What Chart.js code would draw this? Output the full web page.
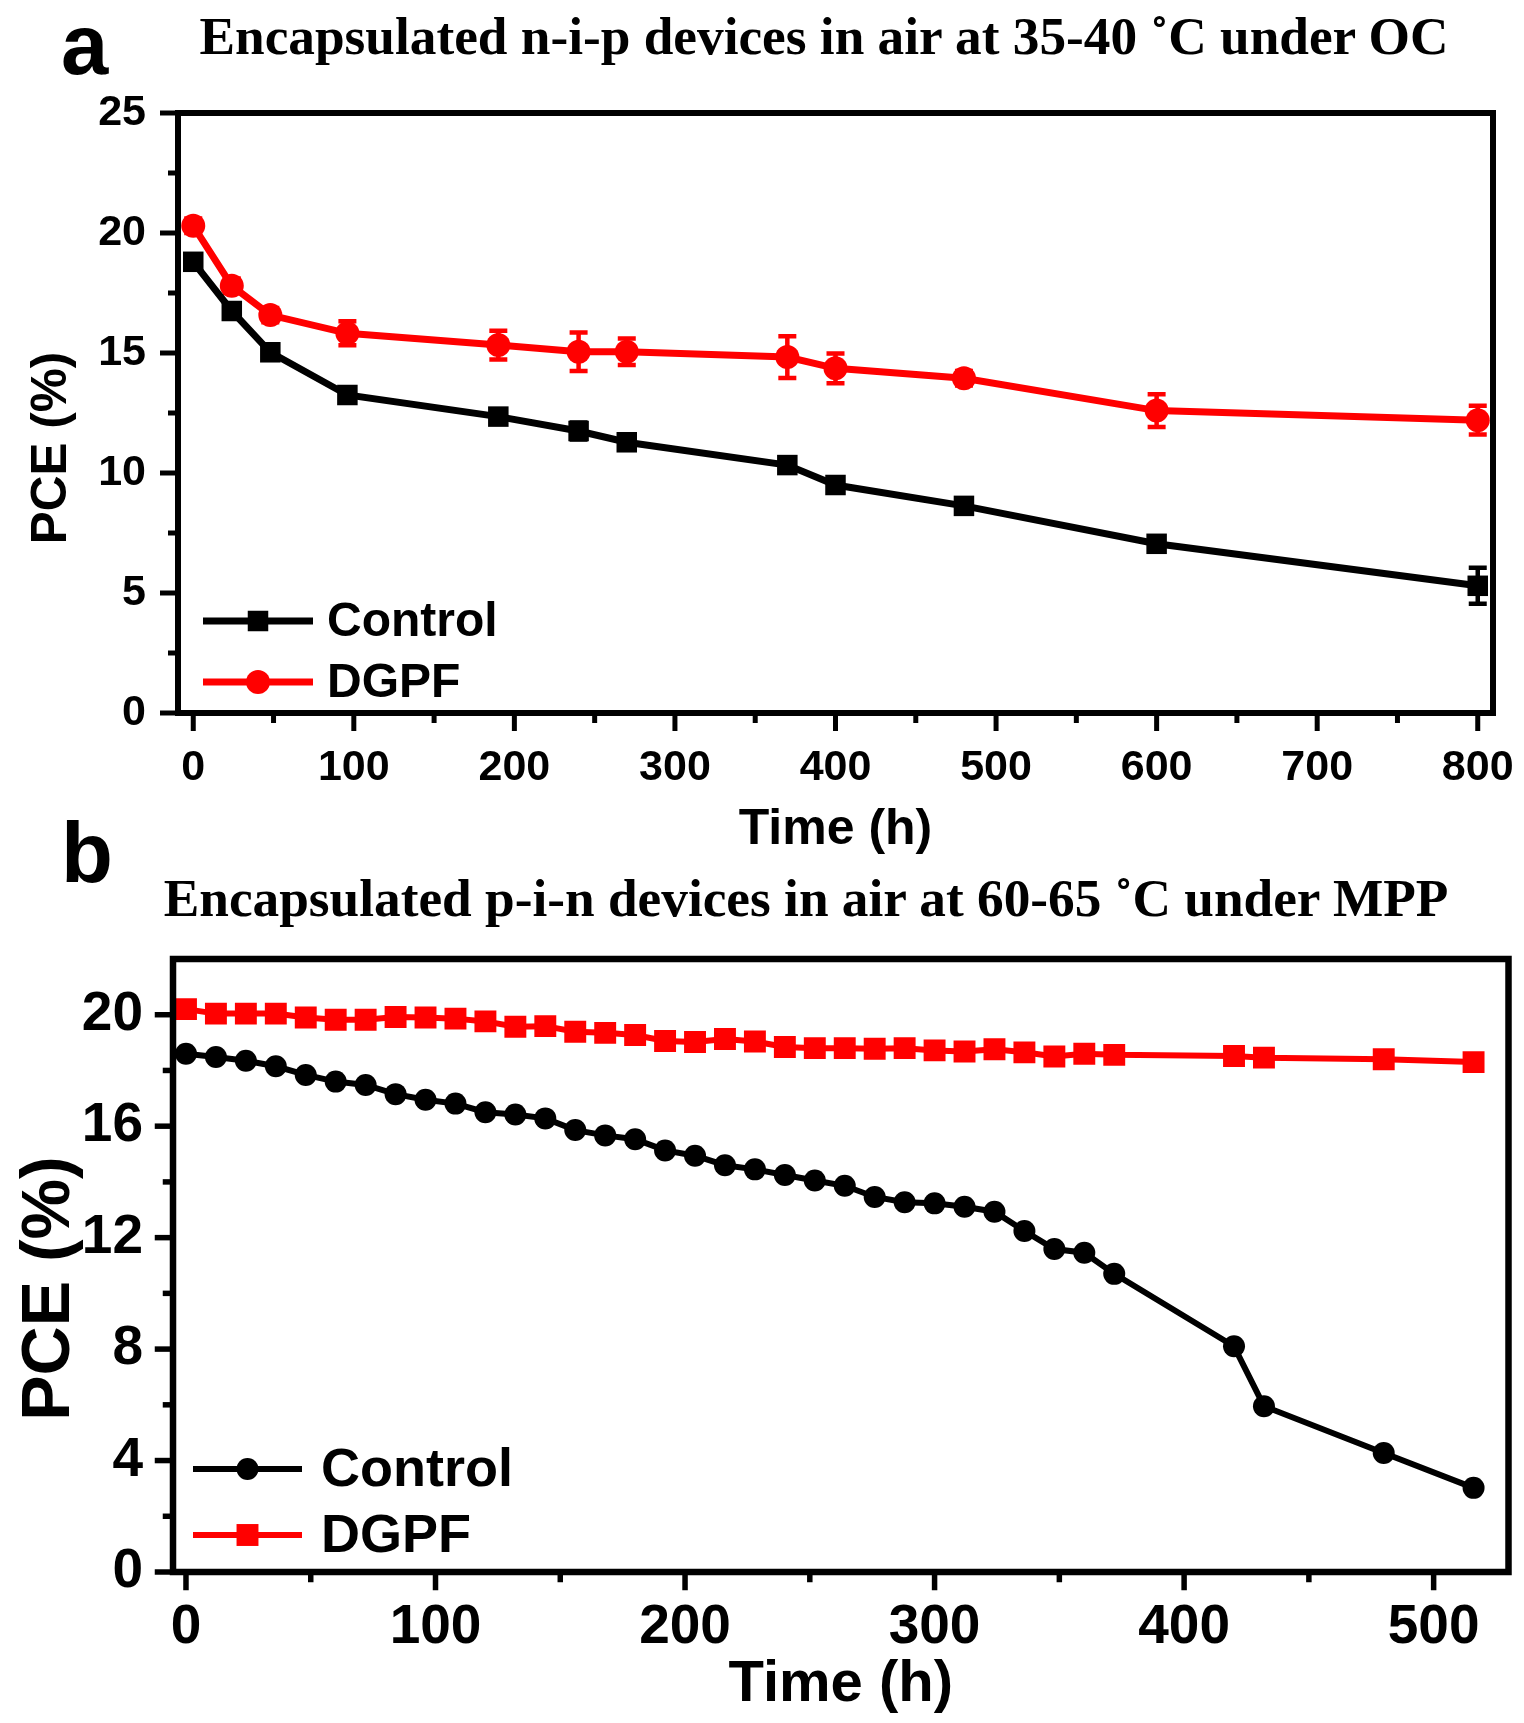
<!DOCTYPE html>
<html>
<head>
<meta charset="utf-8">
<script src="https://cdn.jsdelivr.net/npm/chart.js@4.4.1/dist/chart.umd.min.js"></script>
<style>
  body { margin: 0; background: #fff; width: 1524px; height: 1723px; position: relative; overflow: hidden; }
  canvas { position: absolute; left: 0; }
  #chartA { top: 0; }
  #chartB { top: 860px; }
  .panel { position: absolute; font: bold 85px "Liberation Sans", Arial, sans-serif; line-height: 85px; color: #000; }
  .head { position: absolute; font: bold 53.3px "Liberation Serif", "Times New Roman", serif; line-height: 53.3px; white-space: nowrap; transform: translateX(-50%); color: #000; }
</style>
</head>
<body>
<canvas id="chartA" width="1524" height="860"></canvas>
<canvas id="chartB" width="1524" height="863"></canvas>
<div class="panel" style="left:61px;top:2px">a</div>
<div class="head" style="left:824px;top:10px">Encapsulated n-i-p devices in air at 35-40 ˚C under OC</div>
<div class="panel" style="left:61px;top:810px">b</div>
<div class="head" style="left:806px;top:872px">Encapsulated p-i-n devices in air at 60-65 ˚C under MPP</div>

<script>
// ---- panel a data (n-i-p, 35-40 C, OC) ----
const hoursA = [0, 24, 48, 96, 190, 240, 270, 370, 400, 480, 600, 800];
const controlA = [18.8, 16.75, 15.03, 13.25, 12.35, 11.75, 11.28, 10.33, 9.5, 8.63, 7.05, 5.3];
const controlErrA = [0.2, 0.2, 0.2, 0.2, 0.25, 0.35, 0.2, 0.2, 0.25, 0.25, 0.2, 0.75];
const dgpfA = [20.3, 17.8, 16.58, 15.82, 15.33, 15.05, 15.05, 14.83, 14.36, 13.95, 12.6, 12.2];
const dgpfErrA = [0.3, 0.3, 0.3, 0.5, 0.6, 0.8, 0.55, 0.87, 0.62, 0.3, 0.68, 0.6];
const xTicksA = [0, 100, 200, 300, 400, 500, 600, 700, 800];
const xMinorA = [50, 150, 250, 350, 450, 550, 650, 750];
const yTicksA = [0, 5, 10, 15, 20, 25];
const yMinorA = [2.5, 7.5, 12.5, 17.5, 22.5];

// ---- panel b data (p-i-n, 60-65 C, MPP) ----
const hoursB = [0, 12, 24, 36, 48, 60, 72, 84, 96, 108, 120, 132, 144, 156, 168, 180, 192, 204,
  216, 228, 240, 252, 264, 276, 288, 300, 312, 324, 336, 348, 360, 372, 420, 432, 480, 516];
const controlB = [18.6, 18.48, 18.35, 18.15, 17.84, 17.6, 17.48, 17.15, 16.95, 16.81, 16.5, 16.42,
  16.28, 15.86, 15.67, 15.53, 15.13, 14.94, 14.6, 14.45, 14.25, 14.05, 13.86, 13.46, 13.27, 13.23,
  13.11, 12.93, 12.24, 11.59, 11.46, 10.7, 8.1, 5.95, 4.27, 3.02];
const dgpfB = [20.2, 20.04, 20.04, 20.04, 19.9, 19.82, 19.82, 19.92, 19.9, 19.86, 19.76, 19.57,
  19.59, 19.39, 19.35, 19.27, 19.06, 19.02, 19.13, 19.04, 18.84, 18.8, 18.8, 18.78, 18.8, 18.72,
  18.68, 18.76, 18.65, 18.5, 18.6, 18.56, 18.52, 18.46, 18.4, 18.3];
const xTicksB = [0, 100, 200, 300, 400, 500];
const xMinorB = [50, 150, 250, 350, 450];
const yTicksB = [0, 4, 8, 12, 16, 20];
const yMinorB = [2, 6, 10, 14, 18];

const SANS = '"Liberation Sans", Arial, sans-serif';
const toXY = (xs, ys) => xs.map((x, i) => ({ x, y: ys[i] }));

function drawMarker(ctx, style, r, x, y, color) {
  ctx.fillStyle = color;
  ctx.beginPath();
  if (style === 'rect') {
    const s = r * Math.SQRT1_2;
    ctx.rect(x - s, y - s, 2 * s, 2 * s);
  } else {
    ctx.arc(x, y, r, 0, Math.PI * 2);
  }
  ctx.fill();
}

// frame, tick marks, error bars, y title and legend
const figPlugin = {
  id: 'fig',
  beforeDatasetsDraw(chart, args, o) {
    const ctx = chart.ctx, xs = chart.scales.x, ys = chart.scales.y;
    ctx.save();
    chart.data.datasets.forEach(ds => {
      if (!ds.err) return;
      ctx.strokeStyle = ds.borderColor;
      ctx.lineWidth = 4.5;
      ds.data.forEach((p, i) => {
        const e = ds.err[i];
        const px = xs.getPixelForValue(p.x);
        const t = ys.getPixelForValue(p.y + e), b = ys.getPixelForValue(p.y - e);
        ctx.beginPath();
        ctx.moveTo(px, t); ctx.lineTo(px, b);
        ctx.moveTo(px - 9, t); ctx.lineTo(px + 9, t);
        ctx.moveTo(px - 9, b); ctx.lineTo(px + 9, b);
        ctx.stroke();
      });
    });
    ctx.restore();
  },
  afterDraw(chart, args, o) {
    const ctx = chart.ctx, a = chart.chartArea, xs = chart.scales.x, ys = chart.scales.y;
    const half = o.frameWidth / 2;
    ctx.save();
    ctx.strokeStyle = '#000';
    ctx.lineWidth = o.tickWidth;
    ctx.lineCap = 'butt';
    const tick = (vals, len, isX) => vals.forEach(v => {
      ctx.beginPath();
      if (isX) {
        const px = xs.getPixelForValue(v);
        ctx.moveTo(px, a.bottom); ctx.lineTo(px, a.bottom + half + len);
      } else {
        const py = ys.getPixelForValue(v);
        ctx.moveTo(a.left, py); ctx.lineTo(a.left - half - len, py);
      }
      ctx.stroke();
    });
    tick(o.xMajor, o.majorLen, true);
    tick(o.xMinor, o.minorLen, true);
    tick(o.yMajor, o.majorLen, false);
    tick(o.yMinor, o.minorLen, false);
    // box around plot
    ctx.lineWidth = o.frameWidth;
    ctx.lineJoin = 'miter';
    ctx.strokeRect(a.left, a.top, a.right - a.left, a.bottom - a.top);

    // y axis title
    ctx.fillStyle = '#000';
    ctx.font = 'bold ' + o.yTitle.size + 'px ' + SANS;
    ctx.textAlign = 'center';
    ctx.textBaseline = 'middle';
    ctx.save();
    ctx.translate(o.yTitle.x, (a.top + a.bottom) / 2 + o.yTitle.shift);
    ctx.rotate(-Math.PI / 2);
    ctx.fillText('PCE (%)', 0, 0);
    ctx.restore();

    // legend: line + marker + label
    const lg = o.legend;
    ctx.font = 'bold ' + lg.size + 'px ' + SANS;
    ctx.textBaseline = 'middle';
    ctx.textAlign = 'left';
    chart.data.datasets.forEach((ds, i) => {
      const y = a.bottom - lg.rows[i];
      const x0 = a.left + lg.x0, x1 = a.left + lg.x1;
      ctx.strokeStyle = ds.borderColor;
      ctx.lineWidth = ds.borderWidth;
      ctx.beginPath(); ctx.moveTo(x0, y); ctx.lineTo(x1, y); ctx.stroke();
      drawMarker(ctx, ds.pointStyle, ds.pointRadius, (x0 + x1) / 2, y, ds.borderColor);
      ctx.fillStyle = '#000';
      ctx.fillText(ds.label, a.left + lg.textX, y + 2);
    });
    ctx.restore();
  }
};

function makeChart(id, cfg) {
  return new Chart(document.getElementById(id), {
    type: 'scatter',
    data: { datasets: cfg.datasets },
    options: {
      responsive: false,
      animation: false,
      layout: { padding: cfg.padding },
      plugins: {
        legend: { display: false },
        tooltip: { enabled: false },
        fig: cfg.fig
      },
      scales: {
        x: {
          type: 'linear', min: cfg.xMin, max: cfg.xMax,
          afterBuildTicks: s => { s.ticks = cfg.xTicks.map(v => ({ value: v })); },
          afterFit: s => { s.height = cfg.xHeight; s.paddingLeft = 0; s.paddingRight = 0; },
          grid: { display: false, drawTicks: true, tickLength: cfg.xPad },
          border: { display: false },
          ticks: { color: '#000', padding: 0, maxRotation: 0, autoSkip: false,
                   font: { family: SANS, size: cfg.tickSize, weight: 'bold' } },
          title: { display: true, text: 'Time (h)', color: '#000',
                   font: { family: SANS, size: cfg.xTitleSize, weight: 'bold', lineHeight: 1.2 },
                   padding: { top: 0, bottom: cfg.xTitlePad } }
        },
        y: {
          type: 'linear', min: cfg.yMin, max: cfg.yMax,
          afterBuildTicks: s => { s.ticks = cfg.yTicks.map(v => ({ value: v })); },
          afterFit: s => { s.width = cfg.yWidth; s.paddingTop = 0; s.paddingBottom = 0; },
          grid: { display: false, drawTicks: true, tickLength: cfg.yPad },
          border: { display: false },
          ticks: { color: '#000', padding: 0,
                   font: { family: SANS, size: cfg.tickSize, weight: 'bold' } },
          title: { display: false }
        }
      }
    },
    plugins: [figPlugin]
  });
}

makeChart('chartA', {
  datasets: [
    { label: 'Control', data: toXY(hoursA, controlA), err: controlErrA, showLine: true,
      borderColor: '#000000', backgroundColor: '#000000', borderWidth: 7,
      pointStyle: 'rect', pointRadius: 14.5, pointBorderWidth: 0 },
    { label: 'DGPF', data: toXY(hoursA, dgpfA), err: dgpfErrA, showLine: true,
      borderColor: '#ff0000', backgroundColor: '#ff0000', borderWidth: 7,
      pointStyle: 'circle', pointRadius: 12, pointBorderWidth: 0 }
  ],
  padding: { top: 113, right: 31, left: 0, bottom: 0 },
  xMin: -9.5, xMax: 809.5, yMin: 0, yMax: 25,
  xTicks: xTicksA, yTicks: yTicksA,
  xHeight: 147, yWidth: 178,
  tickSize: 43, xPad: 29, yPad: 32,
  xTitleSize: 50, xTitlePad: 0,
  fig: { frameWidth: 6, tickWidth: 5, majorLen: 15, minorLen: 7,
         xMajor: xTicksA, xMinor: xMinorA, yMajor: yTicksA, yMinor: yMinorA,
         yTitle: { size: 49.5, x: 52, shift: 35 },
         legend: { size: 48, x0: 25, x1: 135, textX: 149, rows: [92, 31] } }
});

makeChart('chartB', {
  datasets: [
    { label: 'Control', data: toXY(hoursB, controlB), showLine: true,
      borderColor: '#000000', backgroundColor: '#000000', borderWidth: 6,
      pointStyle: 'circle', pointRadius: 11, pointBorderWidth: 0 },
    { label: 'DGPF', data: toXY(hoursB, dgpfB), showLine: true,
      borderColor: '#ff0000', backgroundColor: '#ff0000', borderWidth: 6,
      pointStyle: 'rect', pointRadius: 15.5, pointBorderWidth: 0 }
  ],
  padding: { top: 99, right: 10, left: 0, bottom: 0 },
  xMin: -5.2, xMax: 530, yMin: 0, yMax: 22,
  xTicks: xTicksB, yTicks: yTicksB,
  xHeight: 151, yWidth: 173,
  tickSize: 55, xPad: 23, yPad: 30,
  xTitleSize: 58, xTitlePad: 3.7,
  fig: { frameWidth: 6.5, tickWidth: 5.5, majorLen: 15, minorLen: 7,
         xMajor: xTicksB, xMinor: xMinorB, yMajor: yTicksB, yMinor: yMinorB,
         yTitle: { size: 68, x: 50, shift: 23 },
         legend: { size: 54, x0: 20, x1: 129, textX: 148, rows: [103, 37] } }
});
</script>
</body>
</html>
